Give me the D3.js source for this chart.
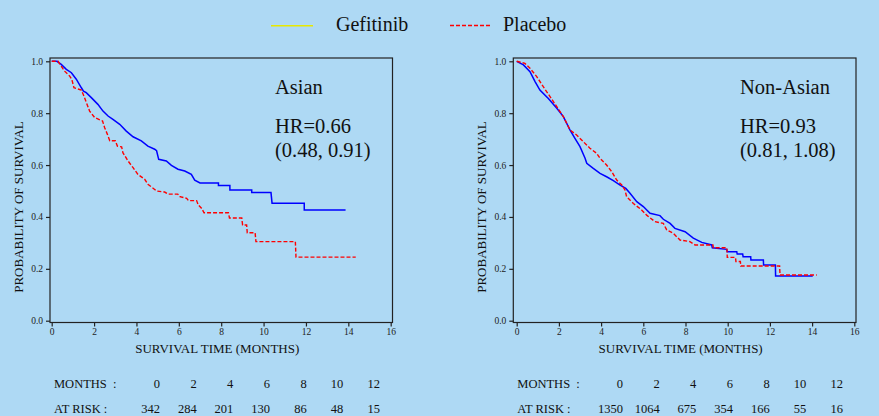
<!DOCTYPE html>
<html>
<head>
<meta charset="utf-8">
<script src="https://cdn.jsdelivr.net/npm/d3@7"></script>
<style>
  body { margin: 0; background: #aed9f4; }
  svg { display: block; font-family: "Liberation Serif", "Times New Roman", serif; }
</style>
</head>
<body>
<div id="chart"></div>
<script>
const asianGefTime = [0, 0.25, 0.45, 0.69, 0.93, 1.16, 1.4, 1.5, 1.63, 1.87, 2.18, 2.42, 2.66, 2.89, 3.21, 3.52, 3.84, 4.23, 4.54, 4.86, 4.95, 5.05, 5.41, 5.65, 5.96, 6.28, 6.59, 6.75, 7.0, 7.87, 7.87, 8.41, 8.41, 9.44, 9.44, 10.35, 10.4, 11.92, 11.92, 13.87]
const asianGefSurv = [1.0, 1.0, 0.988, 0.969, 0.956, 0.931, 0.898, 0.885, 0.879, 0.86, 0.834, 0.808, 0.789, 0.776, 0.757, 0.731, 0.709, 0.693, 0.673, 0.661, 0.655, 0.622, 0.616, 0.599, 0.584, 0.577, 0.564, 0.542, 0.531, 0.531, 0.521, 0.521, 0.504, 0.504, 0.494, 0.494, 0.453, 0.453, 0.427, 0.427]

const asianPlaTime = [0, 0.3, 0.45, 0.61, 0.85, 0.95, 1.05, 1.4, 1.5, 1.79, 2.03, 2.4, 2.5, 2.66, 2.74, 3.0, 3.1, 3.3, 3.36, 3.6, 3.84, 4.07, 4.39, 4.54, 4.86, 4.95, 5.33, 5.5, 5.95, 6.05, 6.37, 6.45, 6.84, 6.92, 7.08, 7.19, 8.34, 8.39, 8.97, 9.01, 9.2, 9.23, 9.6, 9.64, 11.5, 11.53, 14.35]
const asianPlaSurv = [1.0, 1.0, 0.981, 0.962, 0.943, 0.93, 0.898, 0.889, 0.87, 0.808, 0.783, 0.77, 0.744, 0.712, 0.694, 0.694, 0.673, 0.67, 0.648, 0.616, 0.59, 0.564, 0.545, 0.526, 0.506, 0.5, 0.496, 0.488, 0.488, 0.478, 0.472, 0.463, 0.463, 0.446, 0.433, 0.416, 0.416, 0.396, 0.396, 0.369, 0.369, 0.339, 0.339, 0.305, 0.305, 0.245, 0.245]

const nonGefTime = [0, 0.32, 0.63, 0.87, 1.1, 1.5, 1.9, 2.21, 2.53, 2.76, 3.0, 3.24, 3.32, 3.63, 3.95, 4.26, 4.58, 4.9, 5.17, 5.37, 5.69, 6.0, 6.32, 6.79, 6.95, 7.27, 7.5, 7.98, 8.37, 8.77, 9.24, 9.27, 9.95, 9.98, 10.43, 10.45, 10.71, 10.73, 11.09, 11.1, 11.69, 11.7, 12.26, 12.27, 14.03]
const nonGefSurv = [1.0, 0.986, 0.96, 0.922, 0.889, 0.857, 0.819, 0.787, 0.735, 0.703, 0.671, 0.626, 0.607, 0.587, 0.568, 0.555, 0.54, 0.523, 0.51, 0.491, 0.459, 0.44, 0.414, 0.405, 0.391, 0.375, 0.356, 0.343, 0.318, 0.302, 0.292, 0.281, 0.275, 0.266, 0.266, 0.257, 0.257, 0.247, 0.247, 0.234, 0.234, 0.215, 0.215, 0.172, 0.172]

const nonPlaTime = [0, 0.39, 0.63, 0.95, 1.26, 1.58, 1.9, 2.21, 2.53, 2.84, 3.16, 3.47, 3.79, 3.95, 4.26, 4.5, 4.74, 4.98, 5.13, 5.21, 5.53, 5.92, 6.16, 6.55, 6.95, 7.11, 7.42, 7.74, 8.21, 8.45, 9.3, 9.32, 9.96, 9.98, 10.37, 10.39, 10.6, 10.62, 12.46, 12.48, 14.22]
const nonPlaSurv = [1.0, 0.992, 0.973, 0.941, 0.902, 0.864, 0.825, 0.787, 0.735, 0.716, 0.69, 0.665, 0.645, 0.626, 0.6, 0.575, 0.542, 0.523, 0.504, 0.478, 0.452, 0.427, 0.407, 0.382, 0.375, 0.35, 0.337, 0.311, 0.305, 0.292, 0.292, 0.281, 0.281, 0.244, 0.244, 0.228, 0.228, 0.211, 0.211, 0.176, 0.176]

// risk table
const tableMonths = [0, 2, 4, 6, 8, 10, 12]
const asianAtRisk = [342, 284, 201, 130, 86, 48, 15]
const nonAsianAtRisk = [1350, 1064, 675, 354, 166, 55, 16]

const xTicks = [0, 2, 4, 6, 8, 10, 12, 14, 16]
const yTicks = [0, 0.2, 0.4, 0.6, 0.8, 1.0]
const seriesNames = ['Gefitinib', 'Placebo']

const width = 879,
  height = 416

let svg = d3.select('#chart')
  .append('svg')
  .attr('width', width)
  .attr('height', height)

const zip = (ts, ss) => ts.map((t, i) => ({ t: t, s: ss[i] }))

// one panel
let drawPanel = (p) => {
  const xScale = d3.scaleLinear().domain([0, 16]).range([p.x0, p.x1])
  const yScale = d3.scaleLinear().domain([0, 1]).range([320.7, 61.3])

  let g = svg.append('g')

  // frame
  g.append('rect')
    .attr('x', p.fx0)
    .attr('y', 58)
    .attr('width', p.fx1 - p.fx0)
    .attr('height', 264.5)
    .attr('fill', 'none')
    .attr('stroke', '#222')
    .attr('stroke-width', 1.2)

  let yAxis = g.append('g')
    .attr('transform', `translate(${p.fx0}, 0)`)
    .call(d3.axisLeft(yScale).tickValues(yTicks).tickFormat(d3.format('.1f')).tickSize(4).tickSizeOuter(0))
  let xAxis = g.append('g')
    .attr('transform', 'translate(0, 322.5)')
    .call(d3.axisBottom(xScale).tickValues(xTicks).tickSize(4).tickSizeOuter(0))

  ;[yAxis, xAxis].forEach(a => {
    a.select('.domain').remove()
    a.attr('font-family', null)
    a.selectAll('line').attr('stroke', '#222').attr('stroke-width', 1.2)
    a.selectAll('text')
      .attr('fill', '#222')
      .style('font-family', '"Liberation Serif", "Times New Roman", serif')
      .style('font-size', '9.5px')
  })
  yAxis.selectAll('text').attr('x', -7)
  xAxis.selectAll('text').attr('y', 6)

  g.append('text')
    .attr('x', (p.fx0 + p.fx1) / 2 - 4)
    .attr('y', 353)
    .attr('text-anchor', 'middle')
    .attr('font-size', 13)
    .attr('fill', '#111')
    .text('SURVIVAL TIME (MONTHS)')

  g.append('text')
    .attr('transform', `translate(${p.fx0 - 27}, 207) rotate(-90)`)
    .attr('text-anchor', 'middle')
    .attr('font-size', 13)
    .attr('fill', '#111')
    .text('PROBABILITY OF SURVIVAL')

  const line = d3.line()
    .x(d => xScale(d.t))
    .y(d => yScale(d.s))

  g.append('path')
    .datum(zip(p.gefT, p.gefS))
    .attr('d', line)
    .attr('fill', 'none')
    .attr('stroke', '#0000ff')
    .attr('stroke-width', 1.5)

  g.append('path')
    .datum(zip(p.plaT, p.plaS))
    .attr('d', line)
    .attr('fill', 'none')
    .attr('stroke', '#ff0000')
    .attr('stroke-width', 1.4)
    .attr('stroke-dasharray', '4,2')

  let labels = g.append('g')
    .attr('font-size', 20.5)
    .attr('fill', '#111')
  labels.append('text').attr('x', p.tx).attr('y', 94).text(p.title)
  labels.append('text').attr('x', p.tx).attr('y', 133).text(p.hr)
  labels.append('text').attr('x', p.tx).attr('y', 157).text(p.ci)

  // number at risk
  const colScale = d3.scaleLinear().domain([0, 6]).range([p.c0, p.c0 + 220])
  let tbl = g.append('g').attr('font-size', 12.5).attr('fill', '#111')
  tbl.append('text').attr('x', p.fx0 + 4).attr('y', 388).text('MONTHS  :').style('white-space', 'pre')
  tbl.append('text').attr('x', p.fx0 + 4).attr('y', 412.5).text('AT RISK :').style('white-space', 'pre')
  tbl.selectAll('.m')
    .data(tableMonths)
    .enter()
    .append('text')
    .attr('x', (d, i) => colScale(i))
    .attr('y', 388)
    .attr('text-anchor', 'end')
    .text(d => d)
  tbl.selectAll('.r')
    .data(p.risk)
    .enter()
    .append('text')
    .attr('x', (d, i) => colScale(i))
    .attr('y', 412.5)
    .attr('text-anchor', 'end')
    .text(d => d)
}

drawPanel({
  x0: 51.7, x1: 390.7, fx0: 50, fx1: 392.5, tx: 275, c0: 160,
  gefT: asianGefTime, gefS: asianGefSurv, plaT: asianPlaTime, plaS: asianPlaSurv,
  title: 'Asian', hr: 'HR=0.66', ci: '(0.48, 0.91)', risk: asianAtRisk
})
drawPanel({
  x0: 516.7, x1: 854.3, fx0: 513.3, fx1: 856, tx: 740, c0: 623,
  gefT: nonGefTime, gefS: nonGefSurv, plaT: nonPlaTime, plaS: nonPlaSurv,
  title: 'Non-Asian', hr: 'HR=0.93', ci: '(0.81, 1.08)', risk: nonAsianAtRisk
})

// legend
let legend = svg.append('g').attr('font-size', 20).attr('fill', '#111')
legend.append('rect')
  .attr('x', 271).attr('y', 25).attr('width', 42).attr('height', 1.5)
  .attr('fill', '#e8e800')
legend.append('text').attr('x', 336).attr('y', 31).text(seriesNames[0])
legend.append('line')
  .attr('x1', 450).attr('x2', 492).attr('y1', 25.5).attr('y2', 25.5)
  .attr('stroke', '#ff0000').attr('stroke-width', 1.3).attr('stroke-dasharray', '4,2')
legend.append('text').attr('x', 503).attr('y', 31).text(seriesNames[1])
</script>
</body>
</html>
